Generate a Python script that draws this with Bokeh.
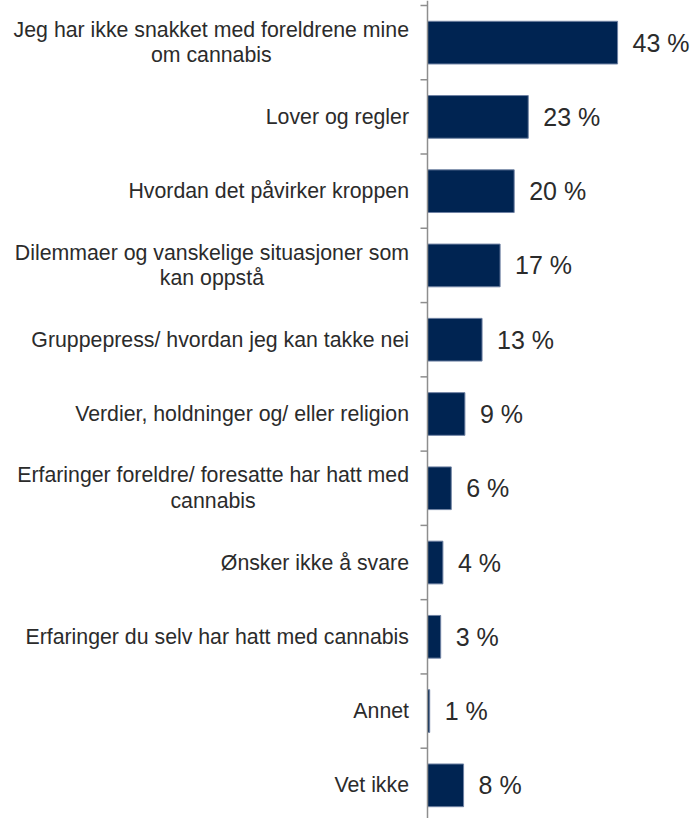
from bokeh.plotting import figure
from bokeh.models import Range1d, Span, ColumnDataSource
from bokeh.core.properties import value
from bokeh.embed import file_html
from bokeh.resources import INLINE

# ---- data ----
categories = [
    "Jeg har ikke snakket med foreldrene mine\nom cannabis",
    "Lover og regler",
    "Hvordan det påvirker kroppen",
    "Dilemmaer og vanskelige situasjoner som\nkan oppstå",
    "Gruppepress/ hvordan jeg kan takke nei",
    "Verdier, holdninger og/ eller religion",
    "Erfaringer foreldre/ foresatte har hatt med\ncannabis",
    "Ønsker ikke å svare",
    "Erfaringer du selv har hatt med cannabis",
    "Annet",
    "Vet ikke",
]
values = [43.2, 22.9, 19.7, 16.5, 12.4, 8.5, 5.4, 3.5, 3.0, 0.5, 8.2]
value_labels = ["43 %", "23 %", "20 %", "17 %", "13 %", "9 %", "6 %", "4 %", "3 %", "1 %", "8 %"]

# ---- layout constants ----
W, H = 695, 818
ORIGIN = 0            # page offset of the figure as rendered
AXIS_X = 427          # page x of the zero line
PX_PER_UNIT = 4.4     # px per percent
BAND_PX = 74.27       # px per category band
FIRST_BAND_TOP = 5    # page y of first band top
LABEL_SIZE = 21.3
VALUE_SIZE = 25
FONT = "Liberation Sans"
TEXT_COLOR = "#2b2b2b"
BAR_COLOR = "#002452"
AXIS_COLOR = "#8e8e8e"

x_start = -(AXIS_X - ORIGIN) / PX_PER_UNIT
x_end = x_start + W / PX_PER_UNIT
y_top = -0.5 + (ORIGIN - FIRST_BAND_TOP) / BAND_PX
y_bottom = y_top + H / BAND_PX

# Arial/Liberation Sans advance widths (per 1000 em) for centering wrapped lines
ARIAL = {
    " ": 278, "/": 278, ",": 278, "a": 556, "b": 556, "c": 500, "d": 556, "e": 556,
    "f": 278, "g": 556, "h": 556, "i": 222, "j": 222, "k": 500, "l": 222, "m": 833,
    "n": 556, "o": 556, "p": 556, "r": 333, "s": 500, "t": 278, "u": 556, "v": 500,
    "å": 556, "J": 500, "L": 556, "H": 722, "D": 722, "G": 778, "V": 667, "E": 667,
    "Ø": 778, "A": 667,
}


def text_width(s, size):
    return sum(ARIAL.get(ch, 556) for ch in s) * size / 1000.0


p = figure(
    width=W, height=H,
    x_range=Range1d(x_start, x_end),
    y_range=Range1d(y_bottom, y_top),
    output_backend="svg", toolbar_location=None,
    x_axis_location=None, y_axis_location=None,
    min_border=0, outline_line_color=None,
    background_fill_color="white", border_fill_color="white",
)
p.grid.visible = False

idx = list(range(len(categories)))

# bars
p.hbar(y=idx, left=0, right=values, height=0.575,
       fill_color=BAR_COLOR, line_color="#6f82a3", line_width=1)

# axis line and tick marks at category boundaries
p.add_layout(Span(location=0, dimension="height", line_color=AXIS_COLOR, line_width=1.5))
bounds = [i - 0.5 for i in range(len(categories) + 1)]
tick_len = 7 / PX_PER_UNIT
p.segment(x0=[0] * len(bounds), x1=[-tick_len] * len(bounds), y0=bounds, y1=bounds,
          line_color=AXIS_COLOR, line_width=1.5)

# category labels (wrapped lines centered under the first line, block right-aligned)
lx, ly, lt, lxo, lyo, la = [], [], [], [], [], []
LINE_GAP = 12.8
RIGHT_PAD = -18.5
for i, cat in enumerate(categories):
    lines = cat.split("\n")
    if len(lines) == 1:
        lx.append(0); ly.append(i); lt.append(cat); lxo.append(RIGHT_PAD); lyo.append(0); la.append("right")
    else:
        w1 = text_width(lines[0], LABEL_SIZE)
        lx.append(0); ly.append(i); lt.append(lines[0]); lxo.append(RIGHT_PAD); lyo.append(-LINE_GAP); la.append("right")
        lx.append(0); ly.append(i); lt.append(lines[1]); lxo.append(RIGHT_PAD - w1 / 2); lyo.append(LINE_GAP); la.append("center")

src = ColumnDataSource(dict(x=lx, y=ly, text=lt, xo=lxo, yo=lyo, align=la))
p.text(x="x", y="y", text="text", x_offset="xo", y_offset="yo", text_align="align",
       text_baseline="middle", text_font=value(FONT), text_font_size=f"{LABEL_SIZE}px",
       text_color=TEXT_COLOR, source=src)

# value labels
p.text(x=values, y=idx, text=value_labels, x_offset=15, text_align="left",
       text_baseline="middle", text_font=value(FONT), text_font_size=f"{VALUE_SIZE}px",
       text_color=TEXT_COLOR)

open("out.html", "w").write(file_html(p, INLINE))
